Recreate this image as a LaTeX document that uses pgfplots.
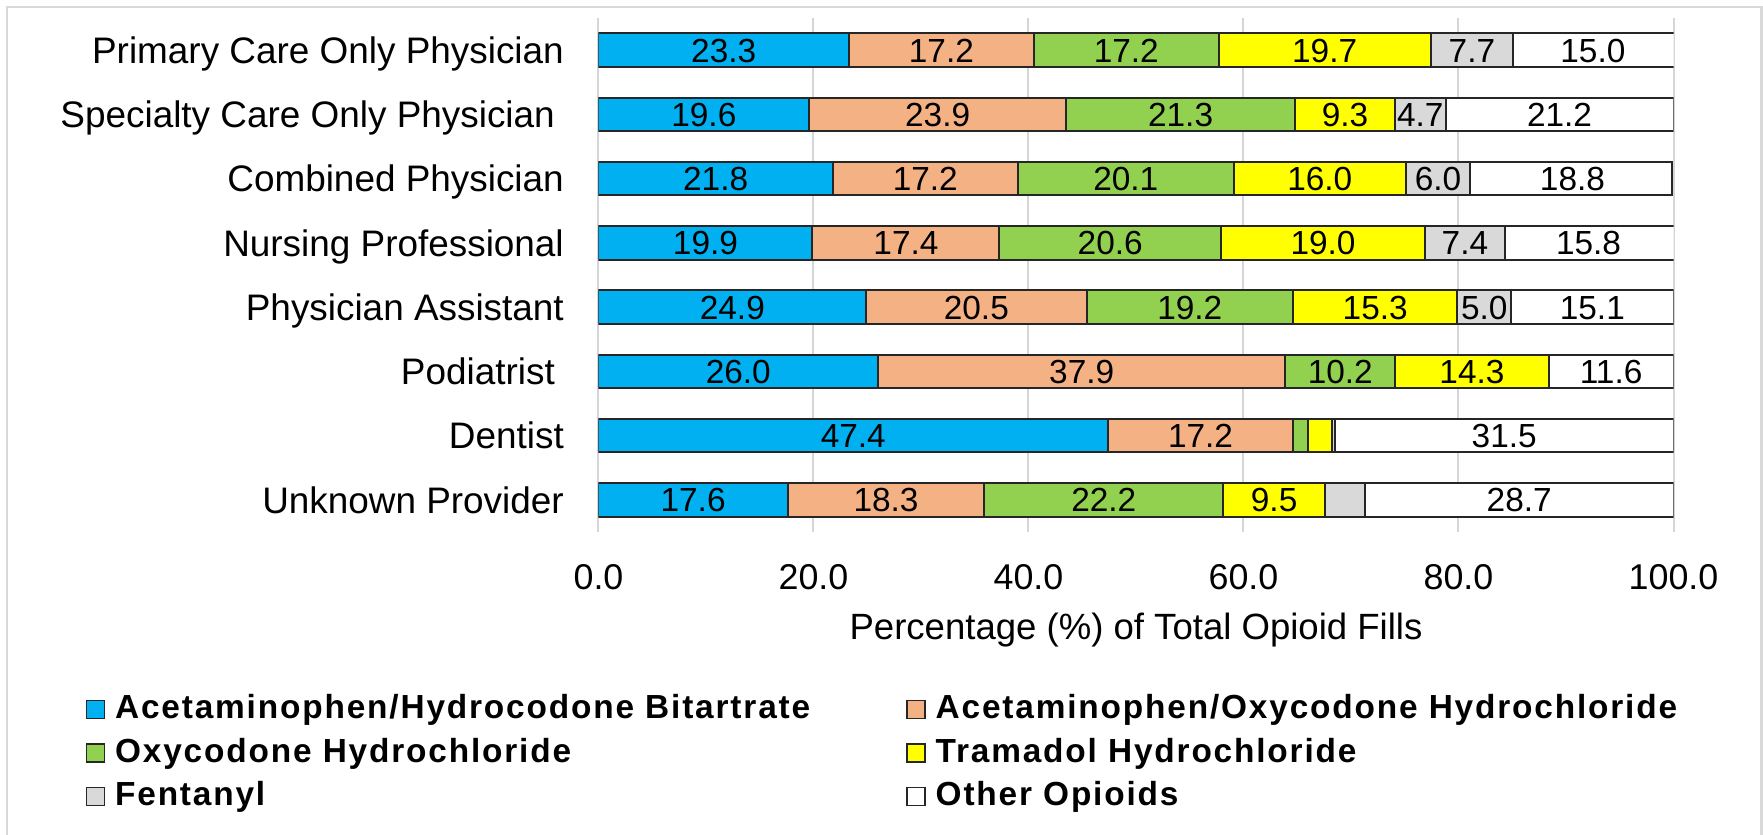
\documentclass[border=0pt]{standalone}
\usepackage{pgfplots}
\pgfplotsset{compat=1.18}
\usepackage{pgfplotstable}
\usepackage{fontspec}
\setmainfont{Liberation Sans}
\newfontfamily\legfont[LetterSpace=5.5]{Liberation Sans}

\definecolor{cHyd}{HTML}{00B0F0}
\definecolor{cOxa}{HTML}{F4B183}
\definecolor{cOxy}{HTML}{92D050}
\definecolor{cTra}{HTML}{FFFF00}
\definecolor{cFen}{HTML}{D9D9D9}
\definecolor{cFrame}{HTML}{D9D9D9}

% share of total opioid fills (%), y = row from the bottom
\pgfplotstableread{
y  hyd  oxa  oxy  tra  fen  oth
7  23.3 17.2 17.2 19.7 7.7  15.0
6  19.6 23.9 21.3 9.3  4.7  21.2
5  21.8 17.2 20.1 16.0 6.0  18.8
4  19.9 17.4 20.6 19.0 7.4  15.8
3  24.9 20.5 19.2 15.3 5.0  15.1
2  26.0 37.9 10.2 14.3 0.0  11.6
1  47.4 17.2 1.4  2.2  0.3  31.5
0  17.6 18.3 22.2 9.5  3.7  28.7
}\fills

\pgfplotsset{
  frame/.style={scale only axis, width=107.5mm, height=51.4mm,
    xmin=0, xmax=100, ymin=-0.5, ymax=7.5},
}

\begin{document}
\begin{tikzpicture}
\begin{axis}[
    frame,
    xbar stacked,
    bar width=3.35mm,
    xtick={0,20,...,100},
    ytick={0,...,7},
    yticklabels={Unknown Provider, Dentist, Podiatrist\hspace*{0.9mm},
      Physician Assistant, Nursing Professional, Combined Physician,
      Specialty Care Only Physician\hspace*{0.9mm}, Primary Care Only Physician},
    xmajorgrids,
    grid style={draw=black!16, line width=0.2mm},
    axis line style={draw=none},
    major tick length=0pt,
    /pgf/number format/assume math mode=true,
    xticklabel style={/pgf/number format/.cd, fixed, fixed zerofill, precision=1,
      /tikz/.cd, font=\fontsize{10.2}{12}\selectfont, anchor=base, inner sep=0pt, yshift=-5.75mm},
    yticklabel style={font=\fontsize{10.5}{12}\selectfont, anchor=base east,
      inner sep=0pt, xshift=-3.4mm, yshift=-1.33mm},
    xlabel={Percentage (\%) of Total Opioid Fills},
    xlabel style={at={(axis description cs:0.5,-0.2082)}, anchor=base,
      inner sep=0pt, font=\fontsize{10.4}{12}\selectfont},
    every axis plot/.append style={draw=black!85, line width=0.2mm},
    legend columns=2,
    legend cell align=left,
    legend image code/.code={\draw[#1, line width=0.15mm] (0mm,-0.9mm) rectangle (1.8mm,0.9mm);},
    legend style={at={(axis description cs:-0.4777,-0.315)}, anchor=north west,
      draw=none, fill=none, inner sep=0pt, row sep=1.4mm,
      font=\legfont\bfseries\fontsize{9.5}{11}\selectfont,
      nodes={inner sep=0pt},
      /tikz/every odd column/.append style={column sep=1mm},
      /tikz/every even column/.append style={column sep=9.6mm}},
]
\addplot[fill=cHyd] table[x=hyd, y=y] {\fills};
\addplot[fill=cOxa] table[x=oxa, y=y] {\fills};
\addplot[fill=cOxy] table[x=oxy, y=y] {\fills};
\addplot[fill=cTra] table[x=tra, y=y] {\fills};
\addplot[fill=cFen] table[x=fen, y=y] {\fills};
\addplot[fill=white] table[x=oth, y=y] {\fills};
\legend{Acetaminophen/Hydrocodone Bitartrate, Acetaminophen/Oxycodone Hydrochloride,
  Oxycodone Hydrochloride, Tramadol Hydrochloride, Fentanyl, Other Opioids}
\end{axis}

% value labels centred in each segment
\begin{axis}[
    frame,
    hide axis,
    point meta=explicit symbolic,
    nodes near coords={\ifdim\pgfplotspointmeta pt<4.5pt\else\pgfplotspointmeta\fi},
    every node near coord/.append style={anchor=base, inner sep=0pt, yshift=-1.2mm,
      text=black, font=\fontsize{9.5}{11}\selectfont},
]
\addplot[draw=none, mark=none] table[x expr=\thisrow{hyd}/2, y=y, meta=hyd] {\fills};
\addplot[draw=none, mark=none] table[x expr=\thisrow{hyd}+\thisrow{oxa}/2, y=y, meta=oxa] {\fills};
\addplot[draw=none, mark=none] table[x expr=\thisrow{hyd}+\thisrow{oxa}+\thisrow{oxy}/2, y=y, meta=oxy] {\fills};
\addplot[draw=none, mark=none] table[x expr=\thisrow{hyd}+\thisrow{oxa}+\thisrow{oxy}+\thisrow{tra}/2, y=y, meta=tra] {\fills};
\addplot[draw=none, mark=none] table[x expr=\thisrow{hyd}+\thisrow{oxa}+\thisrow{oxy}+\thisrow{tra}+\thisrow{fen}/2, y=y, meta=fen] {\fills};
\addplot[draw=none, mark=none] table[x expr=100-\thisrow{oth}/2, y=y, meta=oth] {\fills};
\end{axis}

\draw[cFrame, line width=0.25mm] (-59.15mm,-32mm) rectangle (116.3mm,52.5mm);
\pgfresetboundingbox
\useasboundingbox (-59.85mm,-30.3mm) rectangle (116.45mm,53.2mm);
\end{tikzpicture}
\end{document}
